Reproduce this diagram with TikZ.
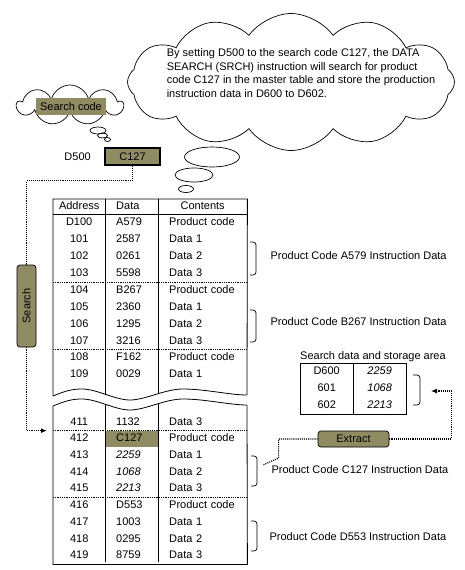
\documentclass[tikz,border=0pt]{standalone}
\usepackage{fontspec}
\setmainfont{Liberation Sans}
\usepackage{tikz}
\usetikzlibrary{arrows.meta,positioning,matrix,shapes.symbols,calc}

\definecolor{codefill}{RGB}{143,139,99}

\begin{document}
\begin{tikzpicture}[x=1pt,y=-1pt,font=\fontsize{11}{13.5}\selectfont,
  thought/.style={cloud,draw,cloud ignores aspect,line width=0.7pt},
  codebox/.style={fill=codefill,minimum height=17pt,inner sep=0pt},
  button/.style={fill=codefill,draw,rounded corners=3pt,inner sep=0pt,line width=0.7pt},
  conn/.style={densely dotted,line width=1.1pt},
  sep/.style={densely dotted,line width=0.8pt},
  tbl/.style={line width=0.8pt},
  brack/.style={rounded corners=3pt,line width=0.7pt},
  cell/.style={inner sep=0pt,text height=8pt,text depth=2.5pt},
  addr/.style={cell,minimum width=52pt},
  dat/.style={cell,text width=31pt,inner xsep=11pt,align=left},
  cont/.style={cell,text width=67pt,inner xsep=11pt,align=left},
  val/.style={cell,minimum width=53pt},
  hdr/.style={minimum height=15pt}]
\useasboundingbox (0,0) rectangle (464,570);

% thought clouds
\node (note) [thought,cloud puffs=12,cloud puff arc=110,minimum width=327pt,minimum height=137pt] at (291,82) {};
\node (notetext) [align=left] at (301,73) {By setting D500 to the search code C127, the DATA\\SEARCH (SRCH) instruction will search for product\\code C127 in the master table and store the production\\instruction data in D600 to D602.};
\draw[line width=0.7pt] (212,157) ellipse [x radius=27.5pt,y radius=10pt];
\draw[line width=0.7pt] (194,175) ellipse [x radius=19pt,y radius=7pt];
\draw[line width=0.7pt] (186,189) ellipse [x radius=7.5pt,y radius=3.5pt];

\node (askcloud) [thought,cloud puffs=9,minimum width=106pt,minimum height=40pt] at (70,105) {};
\node (ask) [codebox,minimum width=70pt] at (71,106.5) {Search code};
\draw[line width=0.7pt] (98,130.5) ellipse [x radius=8pt,y radius=3.5pt];
\draw[line width=0.7pt] (102.5,135.5) ellipse [x radius=5pt,y radius=2.5pt];
\draw[line width=0.7pt] (107.5,139.5) ellipse [x radius=3pt,y radius=2pt];

% search code register
\node (c127) [codebox,draw,line width=1.4pt,minimum width=55pt] at (132.5,156.5) {C127};
\node (d500) [left=10pt of c127] {D500};

% master table, upper part
\matrix (top) [anchor=north west,inner sep=0pt,nodes={minimum height=16.7pt}] at (53,199)
{
\node(hadr)[addr,hdr]{Address}; \pgfmatrixnextcell \node(hdat)[dat,hdr]{Data}; \pgfmatrixnextcell \node(hcont)[cont,hdr,align=center]{Contents};\\
\node(r100)[addr]{D100}; \pgfmatrixnextcell \node(v100)[dat]{A579}; \pgfmatrixnextcell \node(c100)[cont]{Product code};\\
\node(r101)[addr]{101}; \pgfmatrixnextcell \node(v101)[dat]{2587}; \pgfmatrixnextcell \node(c101)[cont]{Data 1};\\
\node(r102)[addr]{102}; \pgfmatrixnextcell \node(v102)[dat]{0261}; \pgfmatrixnextcell \node(c102)[cont]{Data 2};\\
\node(r103)[addr]{103}; \pgfmatrixnextcell \node(v103)[dat]{5598}; \pgfmatrixnextcell \node(c103)[cont]{Data 3};\\
\node(r104)[addr]{104}; \pgfmatrixnextcell \node(v104)[dat]{B267}; \pgfmatrixnextcell \node(c104)[cont]{Product code};\\
\node(r105)[addr]{105}; \pgfmatrixnextcell \node(v105)[dat]{2360}; \pgfmatrixnextcell \node(c105)[cont]{Data 1};\\
\node(r106)[addr]{106}; \pgfmatrixnextcell \node(v106)[dat]{1295}; \pgfmatrixnextcell \node(c106)[cont]{Data 2};\\
\node(r107)[addr]{107}; \pgfmatrixnextcell \node(v107)[dat]{3216}; \pgfmatrixnextcell \node(c107)[cont]{Data 3};\\
\node(r108)[addr]{108}; \pgfmatrixnextcell \node(v108)[dat]{F162}; \pgfmatrixnextcell \node(c108)[cont]{Product code};\\
\node(r109)[addr]{109}; \pgfmatrixnextcell \node(v109)[dat]{0029}; \pgfmatrixnextcell \node(c109)[cont]{Data 1};\\
};

% master table, lower part
\matrix (bot) [anchor=north west,inner sep=0pt,nodes={minimum height=16.5pt}] at (53,413.75)
{
\node(r411)[addr]{411}; \pgfmatrixnextcell \node(v411)[dat]{1132}; \pgfmatrixnextcell \node(c411)[cont]{Data 3};\\
\node(r412)[addr]{412}; \pgfmatrixnextcell \node(v412)[dat,fill=codefill]{C127}; \pgfmatrixnextcell \node(c412)[cont]{Product code};\\
\node(r413)[addr]{413}; \pgfmatrixnextcell \node(v413)[dat]{\itshape 2259}; \pgfmatrixnextcell \node(c413)[cont]{Data 1};\\
\node(r414)[addr]{414}; \pgfmatrixnextcell \node(v414)[dat]{\itshape 1068}; \pgfmatrixnextcell \node(c414)[cont]{Data 2};\\
\node(r415)[addr]{415}; \pgfmatrixnextcell \node(v415)[dat]{\itshape 2213}; \pgfmatrixnextcell \node(c415)[cont]{Data 3};\\
\node(r416)[addr]{416}; \pgfmatrixnextcell \node(v416)[dat]{D553}; \pgfmatrixnextcell \node(c416)[cont]{Product code};\\
\node(r417)[addr]{417}; \pgfmatrixnextcell \node(v417)[dat]{1003}; \pgfmatrixnextcell \node(c417)[cont]{Data 1};\\
\node(r418)[addr]{418}; \pgfmatrixnextcell \node(v418)[dat]{0295}; \pgfmatrixnextcell \node(c418)[cont]{Data 2};\\
\node(r419)[addr]{419}; \pgfmatrixnextcell \node(v419)[dat]{8759}; \pgfmatrixnextcell \node(c419)[cont]{Data 3};\\
};

% table frame with the break
\foreach \dy in {0,10}
  \draw[tbl] (53,396+\dy) .. controls (65,391+\dy) and (72,389+\dy) .. (82,389+\dy)
    .. controls (97,389+\dy) and (115,400+\dy) .. (130,400+\dy)
    .. controls (145,400+\dy) and (165,389+\dy) .. (183,389+\dy)
    .. controls (205,389+\dy) and (230,395+\dy) .. (247,395+\dy);
\draw[tbl] (53,396) |- (top.north east) -- (247,395);
\draw[tbl] (105,199) -- (105,394) (158,199) -- (158,394);
\draw[tbl] (hadr.south west) -- (hcont.south east);
\draw[tbl] (53,406) |- (bot.south east) -- (247,405);
\draw[tbl] (105,404) -- (105,562.25) (158,404) -- (158,562.25);
\draw[sep] (r104.north west) -- (c104.north east);
\draw[sep] (r108.north west) -- (c108.north east);
\draw[sep] (r412.north west) -- (c412.north east);
\draw[sep] (r416.north west) -- (c416.north east);

% instruction data brackets
\draw[brack] (250,242) -- (256,242) -- (256,256) coordinate (brA) -- (256,275) -- (250,275);
\draw[brack] (250,310) -- (256,310) -- (256,322) coordinate (brB) -- (256,342) -- (250,342);
\draw[brack] (251,456) -- (257,456) -- (257,470) coordinate (brC) -- (257,486) -- (251,486);
\draw[brack] (251,521) -- (257,521) -- (257,537) coordinate (brD) -- (257,551) -- (251,551);
\node (labA) [right=11pt of brA] {Product Code A579 Instruction Data};
\node (labB) [right=11pt of brB] {Product Code B267 Instruction Data};
\node (labC) [right=11pt of brC] {Product Code C127 Instruction Data};
\node (labD) [right=9pt of brD] {Product Code D553 Instruction Data};

% storage area
\matrix (store) [anchor=north west,inner sep=0pt,nodes={minimum height=16.7pt}] at (300,363)
{
\node(s600)[val]{D600}; \pgfmatrixnextcell \node(t600)[val]{\itshape 2259};\\
\node(s601)[val]{601}; \pgfmatrixnextcell \node(t601)[val]{\itshape 1068};\\
\node(s602)[val]{602}; \pgfmatrixnextcell \node(t602)[val]{\itshape 2213};\\
};
\draw[tbl] (store.north west) rectangle (store.south east);
\draw[tbl] (t600.north west) -- (t602.south west);
\node (stitle) [anchor=base west,inner sep=0pt] at ($(store.north west)+(0,-4)$) {Search data and storage area};
\draw[brack] (413,375) -- (420,375) -- (420,391) coordinate (brS) -- (420,405) -- (413,405);

% buttons and dotted flow
\node (search) [button,rotate=90,minimum width=82pt,minimum height=19pt] at (26.5,306) {Search};
\node (extract) [button,minimum width=71pt,minimum height=16pt] at (353.5,439) {Extract};
\coordinate (cTip) at (263,465);

\draw[conn] (c127.south) -- ++(0,15) -| (search.east);
\draw[conn,-{Latex[length=6pt,width=5pt]},shorten >=6pt] (search.west) |- (r412.north west);
\draw[conn] (extract.west) -- ++(-39,0) -- ++(0,19) -- (cTip);
\draw[conn,-{Latex[length=6pt,width=5pt]}] (extract.east) -- ++(62,0) |- ([xshift=11pt]brS);
\end{tikzpicture}
\end{document}
